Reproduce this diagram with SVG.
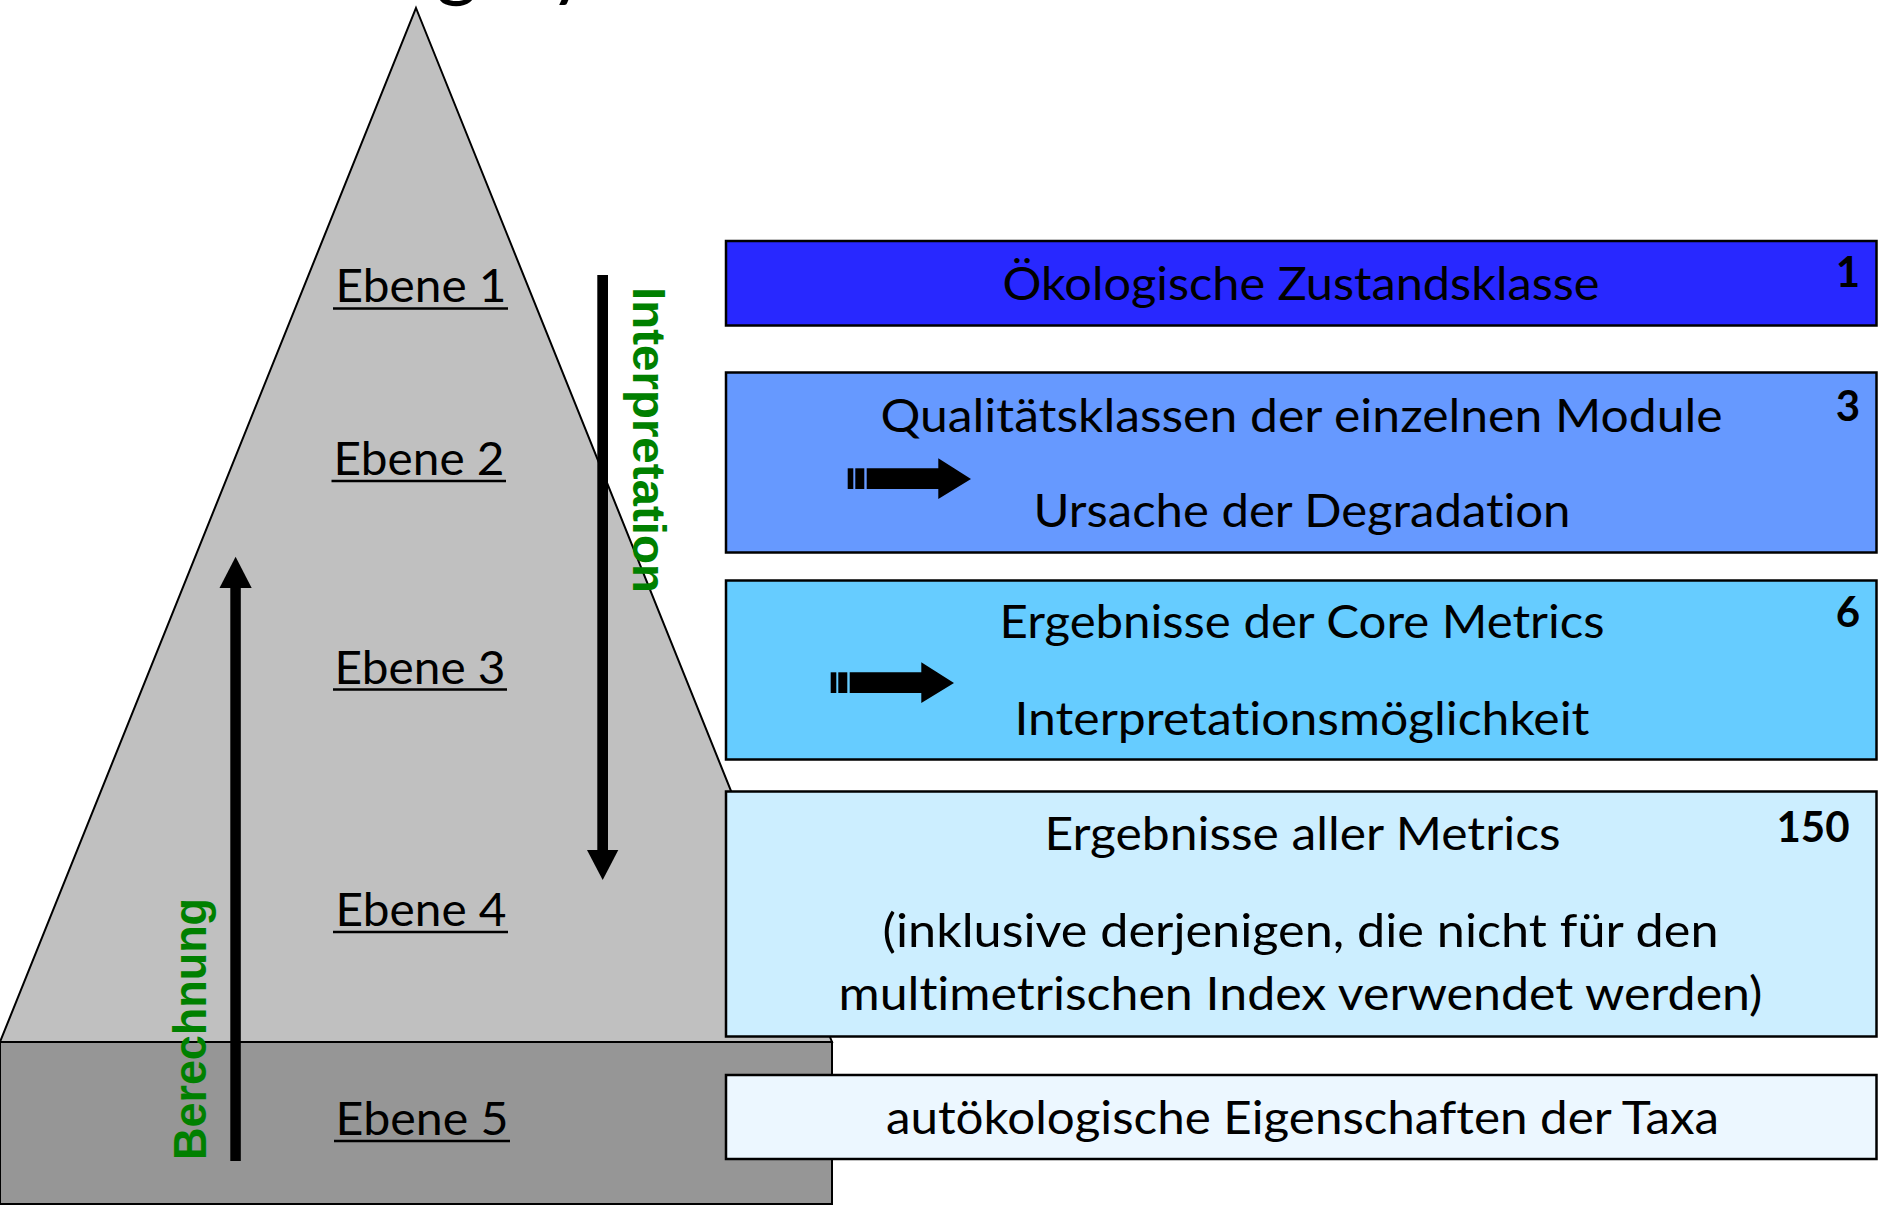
<svg xmlns="http://www.w3.org/2000/svg" width="1878" height="1205" viewBox="0 0 1878 1205">
<style>
text{font-variant-ligatures:none;font-feature-settings:"liga" 0,"dlig" 0}
.lbl{font-family:Lato,"Open Sans","Liberation Sans",sans-serif;font-size:46px;fill:#000;text-anchor:middle}
.num{font-family:Lato,"Liberation Sans",sans-serif;font-size:42px;font-weight:bold;fill:#000;text-anchor:middle}
.rot{font-family:"Liberation Sans",Arial,sans-serif;font-size:47px;font-weight:bold;fill:#008000}
.ul{stroke:#000;stroke-width:2.5}
.box{stroke:#000;stroke-width:2.5}
.ttl{font-family:Lato,"Liberation Sans",sans-serif;font-size:80px;fill:#000}
</style>
<defs>
<g id="striped">
<rect x="847.7" y="468.3" width="5.6" height="20.7" fill="#000"/>
<rect x="855.3" y="468.3" width="9" height="20.7" fill="#000"/>
<polygon points="866.7,468.3 938.3,468.3 938.3,458.3 971,479 938.3,499 938.3,489 866.7,489" fill="#000"/>
</g>
</defs>
<rect width="1878" height="1205" fill="#fff"/>
<g id="title">
<text class="ttl" x="436" y="-9">g</text>
<text class="ttl" x="549" y="-9">y</text>
</g>
<g id="pyramid">
<polygon points="416,8 832,1042 0,1042" fill="#c0c0c0" stroke="#000" stroke-width="2"/>
<rect x="0" y="1042" width="832" height="162" fill="#969696" stroke="#000" stroke-width="2"/>
</g>
<g id="ebene1"><text class="lbl" x="421" y="302" textLength="171" lengthAdjust="spacingAndGlyphs">Ebene 1</text><line class="ul" x1="333" y1="308.5" x2="508" y2="308.5"/></g>
<g id="ebene2"><text class="lbl" x="419" y="475" textLength="171" lengthAdjust="spacingAndGlyphs">Ebene 2</text><line class="ul" x1="331.5" y1="481" x2="506" y2="481"/></g>
<g id="ebene3"><text class="lbl" x="420" y="683.5" textLength="171" lengthAdjust="spacingAndGlyphs">Ebene 3</text><line class="ul" x1="333" y1="689.5" x2="507" y2="689.5"/></g>
<g id="ebene4"><text class="lbl" x="421" y="926" textLength="171" lengthAdjust="spacingAndGlyphs">Ebene 4</text><line class="ul" x1="333" y1="932" x2="508" y2="932"/></g>
<g id="ebene5"><text class="lbl" x="422" y="1135" textLength="173" lengthAdjust="spacingAndGlyphs">Ebene 5</text><line class="ul" x1="334" y1="1141" x2="510" y2="1141"/></g>
<g id="connectors">
<rect x="230.3" y="586" width="10.5" height="575" fill="#000"/>
<polygon points="235.6,556.7 251.7,588 219.5,588" fill="#000"/>
<rect x="597.3" y="275" width="10.7" height="578" fill="#000"/>
<polygon points="587,850 618.3,850 602.7,880" fill="#000"/>
</g>
<g id="interpretation-label"><text class="rot" transform="translate(633,287) rotate(90)" textLength="306" lengthAdjust="spacingAndGlyphs">Interpretation</text></g>
<g id="berechnung-label"><text class="rot" transform="translate(206,1160) rotate(-90)" textLength="262" lengthAdjust="spacingAndGlyphs">Berechnung</text></g>
<g id="box1">
<rect class="box" x="726" y="241" width="1150.5" height="84.5" fill="#2828ff"/>
<text class="lbl" x="1301" y="300" textLength="597" lengthAdjust="spacingAndGlyphs">Ökologische Zustandsklasse</text>
<text class="num" x="1848" y="287">1</text>
</g>
<g id="box2">
<rect class="box" x="726" y="372.5" width="1150.5" height="180" fill="#6699ff"/>
<text class="lbl" x="1301.5" y="431.5" textLength="842" lengthAdjust="spacingAndGlyphs">Qualitätsklassen der einzelnen Module</text>
<text class="lbl" x="1302" y="527" textLength="537" lengthAdjust="spacingAndGlyphs">Ursache der Degradation</text>
<text class="num" x="1848" y="421">3</text>
<use href="#striped"/>
</g>
<g id="box3">
<rect class="box" x="726" y="580.5" width="1150.5" height="179" fill="#66ccff"/>
<text class="lbl" x="1302" y="638" textLength="605" lengthAdjust="spacingAndGlyphs">Ergebnisse der Core Metrics</text>
<text class="lbl" x="1302" y="735" textLength="575" lengthAdjust="spacingAndGlyphs">Interpretationsmöglichkeit</text>
<text class="num" x="1848" y="627">6</text>
<use href="#striped" transform="translate(-17,204)"/>
</g>
<g id="box4">
<rect class="box" x="726" y="791.5" width="1150.5" height="245" fill="#cceeff"/>
<text class="lbl" x="1302.5" y="850" textLength="516" lengthAdjust="spacingAndGlyphs">Ergebnisse aller Metrics</text>
<text class="lbl" x="1300.5" y="946.5" textLength="836" lengthAdjust="spacingAndGlyphs">(inklusive derjenigen, die nicht für den</text>
<text class="lbl" x="1300.5" y="1010" textLength="924" lengthAdjust="spacingAndGlyphs">multimetrischen Index verwendet werden)</text>
<text class="num" x="1813" y="842">150</text>
</g>
<g id="box5">
<rect class="box" x="726" y="1075" width="1150.5" height="84" fill="#ecf7ff"/>
<text class="lbl" x="1302.5" y="1134" textLength="833" lengthAdjust="spacingAndGlyphs">autökologische Eigenschaften der Taxa</text>
</g>
</svg>
